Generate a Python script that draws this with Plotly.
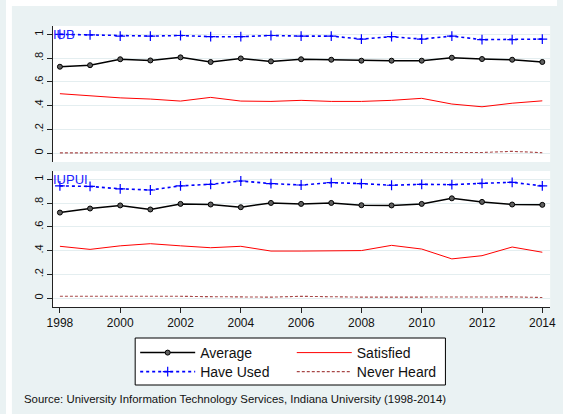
import plotly.graph_objects as go

years = list(range(1998, 2015))

iub_average = [0.727, 0.740, 0.790, 0.780, 0.806, 0.767, 0.797, 0.772, 0.790, 0.786, 0.778,
               0.778, 0.778, 0.803, 0.792, 0.786, 0.767]
iub_have_used = [1.000, 0.995, 0.985, 0.985, 0.990, 0.980, 0.980, 0.990, 0.985, 0.985, 0.960,
                 0.980, 0.960, 0.985, 0.955, 0.955, 0.960]
iub_satisfied = [0.500, 0.480, 0.465, 0.455, 0.438, 0.469, 0.438, 0.435, 0.444, 0.435, 0.435,
                 0.444, 0.461, 0.413, 0.390, 0.420, 0.440]
iub_never_heard = [0.002, 0.002, 0.005, 0.003, 0.002, 0.003, 0.002, 0.002, 0.002, 0.002, 0.003,
                   0.002, 0.003, 0.002, 0.005, 0.015, 0.003]

iupui_average = [0.720, 0.754, 0.780, 0.746, 0.793, 0.788, 0.765, 0.801, 0.793, 0.801, 0.782,
                 0.780, 0.793, 0.840, 0.810, 0.788, 0.785]
iupui_have_used = [0.945, 0.940, 0.920, 0.910, 0.945, 0.958, 0.986, 0.964, 0.952, 0.972, 0.964,
                   0.950, 0.958, 0.955, 0.966, 0.975, 0.944]
iupui_satisfied = [0.436, 0.410, 0.440, 0.458, 0.440, 0.424, 0.436, 0.396, 0.396, 0.398, 0.400,
                   0.444, 0.413, 0.330, 0.357, 0.430, 0.386]
iupui_never_heard = [0.015, 0.015, 0.020, 0.015, 0.015, 0.012, 0.008, 0.008, 0.015, 0.010, 0.008,
                     0.008, 0.010, 0.012, 0.012, 0.010, 0.005]

panel_labels = ["IUB", "IUPUI"]
y_tickvals = [0, 0.2, 0.4, 0.6, 0.8, 1]
y_ticktext = ["0", ".2", ".4", ".6", ".8", "1"]
x_tickvals = [1998, 2000, 2002, 2004, 2006, 2008, 2010, 2012, 2014]

W, H = 563, 414
FONT = "Arial, Liberation Sans, sans-serif"
BG = "#EAF2F3"
GRID = "#E4EEF0"

fig = go.Figure()

panels = [
    ("x", "y", iub_average, iub_have_used, iub_satisfied, iub_never_heard, True),
    ("x2", "y2", iupui_average, iupui_have_used, iupui_satisfied, iupui_never_heard, False),
]
for xa, ya, avg, used, sat, never, show in panels:
    fig.add_trace(go.Scatter(x=years, y=never, xaxis=xa, yaxis=ya, mode="lines", name="Never Heard",
                             line=dict(color="#A84848", width=1.1, dash="3px,2px"),
                             legend="legend4", showlegend=show))
    fig.add_trace(go.Scatter(x=years, y=sat, xaxis=xa, yaxis=ya, mode="lines", name="Satisfied",
                             line=dict(color="#FF0000", width=1),
                             legend="legend2", showlegend=show))
    fig.add_trace(go.Scatter(x=years, y=used, xaxis=xa, yaxis=ya, mode="lines+markers", name="Have Used",
                             line=dict(color="#0000FF", width=1.6, dash="3px,3px"),
                             marker=dict(symbol="cross-thin", size=7, line=dict(color="#0000FF", width=1.2)),
                             legend="legend3", showlegend=show))
    fig.add_trace(go.Scatter(x=years, y=avg, xaxis=xa, yaxis=ya, mode="lines+markers", name="Average",
                             line=dict(color="#000000", width=1.5),
                             marker=dict(symbol="circle", size=5, color="#606060",
                                         line=dict(color="#000000", width=1)),
                             legend="legend", showlegend=show))

def px_x(p):
    return p / W

def px_y(p):
    return 1 - p / H

x_dom = [px_x(48), px_x(556)]
yr = [-0.075, 1.07]
xr = [1997.77, 2014.26]

common_y = dict(range=yr, tickvals=y_tickvals, ticktext=y_ticktext, tickangle=-90,
                showgrid=True, gridcolor=GRID, gridwidth=1, zeroline=False,
                showline=True, linecolor="#222222", linewidth=1,
                ticks="outside", ticklen=5, tickcolor="#222222",
                tickfont=dict(family=FONT, size=11, color="#111111"), fixedrange=True)

def leg(xpx, ypx):
    return dict(x=px_x(xpx), y=px_y(ypx), xanchor="left", yanchor="top",
                orientation="v", bgcolor="rgba(0,0,0,0)", borderwidth=0,
                itemwidth=55, tracegroupgap=0,
                font=dict(family=FONT, size=14, color="#111111"))

fig.update_layout(
    width=W, height=H,
    margin=dict(l=0, r=0, t=0, b=0),
    paper_bgcolor=BG, plot_bgcolor="white",
    font=dict(family=FONT, size=11, color="#111111"),
    xaxis=dict(domain=x_dom, anchor="y", range=xr, showticklabels=False, showgrid=False,
               zeroline=False, showline=False, ticks="", tickvals=x_tickvals, fixedrange=True),
    yaxis=dict(domain=[px_y(162), px_y(26)], anchor="x", **common_y),
    xaxis2=dict(domain=x_dom, anchor="y2", range=xr, tickvals=x_tickvals, showgrid=False,
                zeroline=False, showline=True, linecolor="#222222", linewidth=1,
                ticks="outside", ticklen=5, tickcolor="#222222",
                tickfont=dict(family=FONT, size=12, color="#111111"), fixedrange=True),
    yaxis2=dict(domain=[px_y(307), px_y(171)], anchor="x2", **common_y),
    legend=leg(132, 337),
    legend2=leg(292, 337),
    legend3=leg(132, 356),
    legend4=leg(292, 356),
    showlegend=True,
)

# legend frame
fig.add_shape(type="rect", xref="paper", yref="paper",
              x0=px_x(132), x1=px_x(449), y0=px_y(385), y1=px_y(338),
              line=dict(color="#000000", width=1), fillcolor="white", layer="below")
# white outer strips (left and top)
fig.add_shape(type="rect", xref="paper", yref="paper", x0=0, x1=px_x(6), y0=0, y1=1,
              line=dict(width=0), fillcolor="white", layer="below")
fig.add_shape(type="rect", xref="paper", yref="paper", x0=0, x1=1, y0=px_y(6), y1=1,
              line=dict(width=0), fillcolor="white", layer="below")

for i, lab in enumerate(panel_labels):
    yref = "y" if i == 0 else "y2"
    fig.add_annotation(text=lab, xref="paper", yref=yref, x=px_x(46), y=1.0,
                       xanchor="left", yanchor="middle", showarrow=False,
                       font=dict(family=FONT, size=13, color="#2020FF"))

fig.add_annotation(text="Source: University Information Technology Services, Indiana University (1998-2014)",
                   xref="paper", yref="paper", x=px_x(16), y=px_y(399),
                   xanchor="left", yanchor="middle", showarrow=False,
                   font=dict(family=FONT, size=11.4, color="#111111"))

fig.write_html("out.html")
